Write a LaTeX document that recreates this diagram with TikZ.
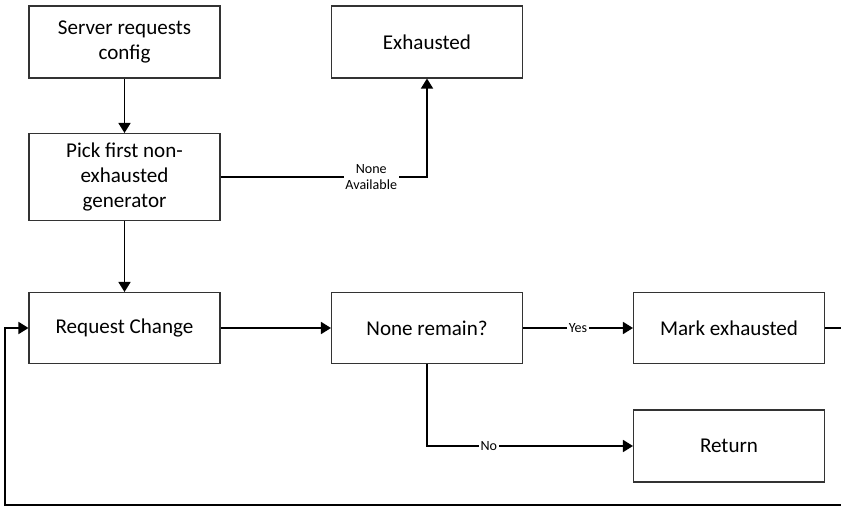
\documentclass[tikz,border=0pt]{standalone}
\usepackage{fontspec}
\setmainfont{Carlito}
\usetikzlibrary{arrows.meta}

\tikzset{
  box/.style={draw=black!80, line width=0.6pt, fill=white, align=center,
    minimum width=3.82cm, minimum height=1.44cm, inner sep=2pt,
    font=\fontsize{12}{14.2}\selectfont},
  lbl/.style={fill=white, inner sep=1pt, align=center,
    font=\fontsize{8}{9.6}\selectfont},
  flow/.style={line width=1pt}
}

\begin{document}
\begin{tikzpicture}[x=0.02cm, y=-0.02cm, >={Triangle[length=5.7pt,width=6.8pt]}]
\useasboundingbox (0,0) rectangle (841,506);

% Nodes (left column)
\node (server) at (124.5,42) [box] {Server requests\\config};
\node (pick) at (124.5,177) [box, minimum height=1.74cm] {Pick first non-\\exhausted\\generator};
\node (request) at (124.5,328) [box, minimum height=1.42cm] {Request Change};

% Nodes (middle column)
\node (exhausted) at (427,42) [box] {Exhausted};
\node (remain) at (427,328) [box, minimum height=1.42cm] {None remain?};

% Nodes (right column)
\node (mark) at (729,328) [box, minimum height=1.42cm] {Mark exhausted};
\node (return) at (729,446) [box] {Return};

% Loop-back corners at the edge
\coordinate (edgeR) at (841,328);
\coordinate (edgeB) at (841,505);

% Vertical edges (left)
\draw[flow,->] (server) -- (pick);
\draw[flow,->] (pick) -- (request);

% From pick to exhausted
\draw[flow,->] (pick.east) -- node[lbl, pos=0.73] {None\\Available} (pick.east -| exhausted) -- (exhausted.south);

% Horizontal edges (middle row)
\draw[flow,->] (request) -- (remain);
\draw[flow,->] (remain) -- node[lbl] {Yes} (mark);
\draw[flow] (mark) -- (edgeR);

% No branch
\draw[flow,->] (remain.south) |- node[lbl, pos=0.65] {No} (return.west);

% Back to request
\draw[flow,->] (edgeB) -- (5,505) |- (request.west);

\end{tikzpicture}
\end{document}
